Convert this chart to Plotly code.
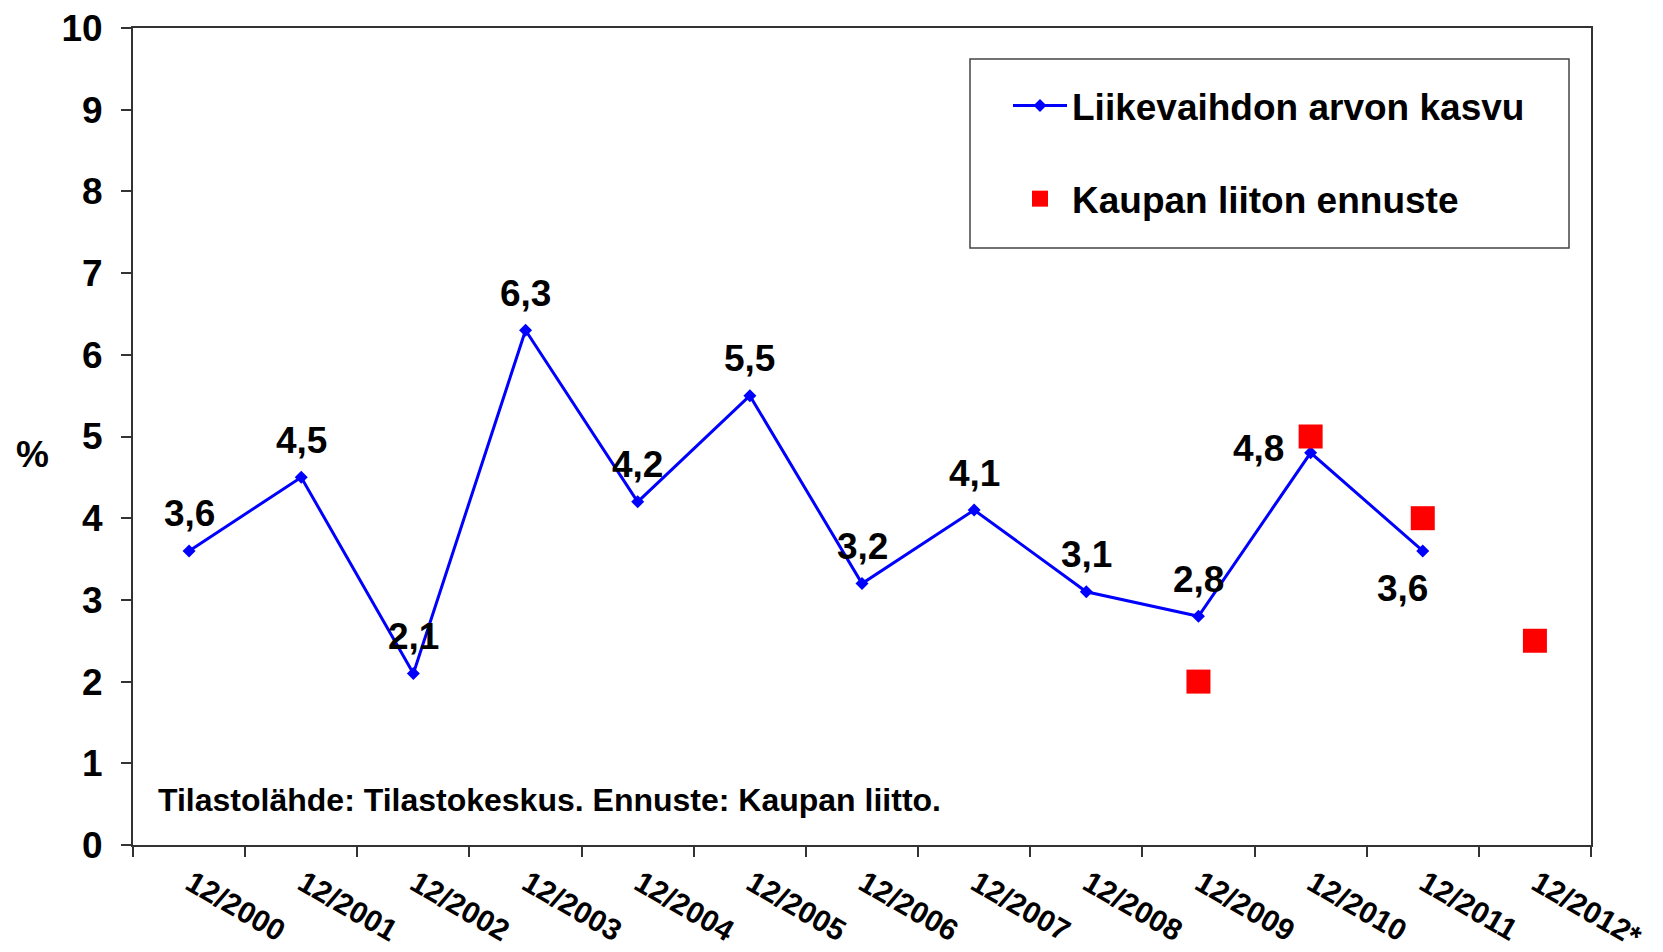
import plotly.graph_objects as go

categories = ["12/2000", "12/2001", "12/2002", "12/2003", "12/2004", "12/2005",
              "12/2006", "12/2007", "12/2008", "12/2009", "12/2010", "12/2011", "12/2012*"]
growth_x = categories[:12]
growth_values = [3.6, 4.5, 2.1, 6.3, 4.2, 5.5, 3.2, 4.1, 3.1, 2.8, 4.8, 3.6]
growth_labels = ["3,6", "4,5", "2,1", "6,3", "4,2", "5,5", "3,2", "4,1", "3,1", "2,8", "4,8", "3,6"]
forecast_x = ["12/2009", "12/2010", "12/2011", "12/2012*"]
forecast_values = [2.0, 5.0, 4.0, 2.5]
y_ticks = list(range(0, 11))

FONT = "Arial, 'Liberation Sans', sans-serif"

W, H = 1663, 952
ML, MR, MT, MB = 125, 80, 20, 115
PW, PH = W - ML - MR, H - MT - MB

fig = go.Figure()
fig.add_trace(go.Scatter(
    x=growth_x, y=growth_values, mode="lines+markers",
    name="Liikevaihdon arvon kasvu",
    line=dict(color="#0000FF", width=3),
    marker=dict(symbol="diamond", size=10, color="#0000FF"),
    legendgroup="a",
))
fig.add_trace(go.Scatter(
    x=forecast_x, y=forecast_values, mode="markers",
    name="Kaupan liiton ennuste",
    marker=dict(symbol="square", size=24, color="#FF0000"),
    legendgroup="b",
))

# data labels
label_shift = {10: (-52, 4), 11: (-20, -38)}
for i, (cx, v, t) in enumerate(zip(growth_x, growth_values, growth_labels)):
    xs, ys = label_shift.get(i, (0, 37))
    fig.add_annotation(x=cx, y=v, text=t, showarrow=False, xshift=xs, yshift=ys,
                       font=dict(family=FONT, size=37, color="black", weight="bold"))

fig.add_annotation(xref="paper", yref="y", x=(148 - ML) / PW, y=0.55, xanchor="left", yanchor="middle",
                   text="Tilastolähde: Tilastokeskus. Ennuste: Kaupan liitto.", showarrow=False,
                   font=dict(family=FONT, size=32, color="black", weight="bold"))
fig.add_annotation(xref="paper", yref="paper", x=(24 - ML) / PW, y=(H - MB - 446) / PH,
                   xanchor="center", yanchor="middle",
                   text="%", showarrow=False,
                   font=dict(family=FONT, size=37, color="black", weight="bold"))

# legend frame
fig.add_shape(type="rect", xref="paper", yref="paper",
              x0=(962 - ML) / PW, x1=(1561 - ML) / PW,
              y0=(H - MB - 240) / PH, y1=(H - MB - 51) / PH,
              line=dict(color="#444444", width=1.5), fillcolor="white", layer="below")

fig.update_layout(
    width=W, height=H,
    margin=dict(l=ML, r=MR, t=MT, b=MB, autoexpand=False),
    paper_bgcolor="white", plot_bgcolor="white",
    font=dict(family=FONT, color="black"),
    showlegend=True,
    legend=dict(x=(1000 - ML) / PW, y=(H - MB - 67) / PH, xanchor="left", yanchor="top",
                bgcolor="rgba(0,0,0,0)", borderwidth=0,
                font=dict(family=FONT, size=37, color="black", weight="bold"),
                traceorder="grouped", tracegroupgap=42, itemwidth=54),
    xaxis=dict(type="category", categoryorder="array", categoryarray=categories,
               range=[-0.5, 12.5], tickson="boundaries", ticks="outside", ticklen=10,
               tickwidth=1.5, tickcolor="#333333", automargin=False,
               showline=True, linecolor="#333333", linewidth=2, mirror=True,
               showgrid=False, zeroline=False, tickangle=30,
               ticklabelstandoff=7, ticklabelshift=2, ticklabeloverflow="allow",
               tickfont=dict(family=FONT, size=30, color="black", weight="bold")),
    yaxis=dict(range=[0, 10], tickvals=y_ticks, ticks="outside", ticklen=10,
               tickwidth=1.5, tickcolor="#333333", automargin=False,
               showline=True, linecolor="#333333", linewidth=2, mirror=True,
               showgrid=False, zeroline=False, ticklabelstandoff=11,
               ticklabeloverflow="allow",
               tickfont=dict(family=FONT, size=37, color="black", weight="bold")),
)

fig.write_html("out.html")
